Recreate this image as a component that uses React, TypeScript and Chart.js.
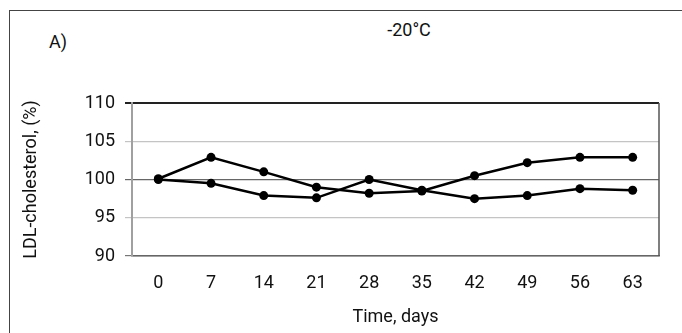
import React, { useEffect, useRef } from "react";
import { Chart, registerables } from "chart.js";

Chart.register(...registerables);

const days = ["0", "7", "14", "21", "28", "35", "42", "49", "56", "63"];
const seriesA = [100.1, 102.9, 101.0, 99.0, 98.2, 98.5, 100.5, 102.2, 102.9, 102.9];
const seriesB = [100.0, 99.5, 97.9, 97.6, 100.0, 98.6, 97.5, 97.9, 98.8, 98.6];
const yMin = 90;
const yMax = 110;
const yStep = 5;

const FONT = "'Liberation Sans Narrow', Roboto, sans-serif";

const rightBorder = {
  id: "rightBorder",
  afterDraw(chart: any) {
    const { ctx, chartArea } = chart;
    ctx.save();
    ctx.strokeStyle = "#555";
    ctx.lineWidth = 1.5;
    ctx.beginPath();
    ctx.moveTo(chartArea.right, chartArea.top);
    ctx.lineTo(chartArea.right, chartArea.bottom);
    ctx.stroke();
    ctx.restore();
  },
};

export default function App() {
  const ref = useRef<HTMLCanvasElement | null>(null);

  useEffect(() => {
    if (!ref.current) return;
    const chart = new Chart(ref.current, {
      type: "line",
      data: {
        labels: days,
        datasets: [
          {
            data: seriesA,
            borderColor: "#000",
            backgroundColor: "#000",
            borderWidth: 2.5,
            pointRadius: 4.5,
            pointBorderWidth: 0,
            tension: 0,
          },
          {
            data: seriesB,
            borderColor: "#000",
            backgroundColor: "#000",
            borderWidth: 2.5,
            pointRadius: 4.5,
            pointBorderWidth: 0,
            tension: 0,
          },
        ],
      },
      options: {
        animation: false,
        responsive: false,
        layout: { padding: { left: 18, right: 23, top: 103, bottom: 5 } },
        plugins: {
          legend: { display: false },
          title: { display: false },
          tooltip: { enabled: false },
        },
        scales: {
          x: {
            offset: true,
            afterFit(scale: any) {
              scale.height = 72;
            },
            grid: { display: true, drawOnChartArea: false, drawTicks: false, color: "transparent", offset: true },
            border: { display: true, color: "#666", width: 1.5 },
            ticks: {
              padding: 17,
              color: "#111",
              font: { family: FONT, size: 18 },
              maxRotation: 0,
            },
            title: {
              display: true,
              text: "Time, days",
              color: "#111",
              font: { family: FONT, size: 18 },
              padding: 0,
            },
          },
          y: {
            min: yMin,
            max: yMax,
            afterFit(scale: any) {
              scale.width = 114;
            },
            ticks: {
              stepSize: yStep,
              padding: 10,
              color: "#111",
              font: { family: FONT, size: 18 },
            },
            grid: {
              tickLength: 7,
              lineWidth: (ctx: any) => (ctx.tick && ctx.tick.value === 110 ? 2 : 1.2),
              color: (ctx: any) => {
                const v = ctx.tick ? ctx.tick.value : 0;
                if (v === 110) return "#222";
                if (v === 100) return "#666";
                if (v === 90) return "#777";
                return "#c4c4c4";
              },
            },
            border: { display: true, color: "#a0a0a0", width: 2 },
            title: {
              display: true,
              text: "LDL-cholesterol, (%)",
              color: "#111",
              font: { family: FONT, size: 18 },
              padding: { top: 3, bottom: 0 },
            },
          },
        },
      },
      plugins: [rightBorder],
    });
    return () => chart.destroy();
  }, []);

  return (
    <div
      style={{
        position: "fixed",
        left: 0,
        top: 0,
        width: 682,
        height: 333,
        overflow: "hidden",
        background: "#fff",
        fontFamily: FONT,
        color: "#111",
      }}
    >
      <div
        style={{
          position: "absolute",
          left: 9,
          top: 10,
          width: 720,
          height: 400,
          border: "1px solid #444",
        }}
      />
      <div style={{ position: "absolute", left: 49, top: 31, fontSize: 18, lineHeight: "22px" }}>A)</div>
      <div
        style={{
          position: "absolute",
          left: 359,
          width: 100,
          textAlign: "center",
          top: 19,
          fontSize: 18,
          lineHeight: "22px",
        }}
      >
        -20°C
      </div>
      <canvas ref={ref} width={682} height={333} style={{ position: "absolute", left: 0, top: 0 }} />
    </div>
  );
}
